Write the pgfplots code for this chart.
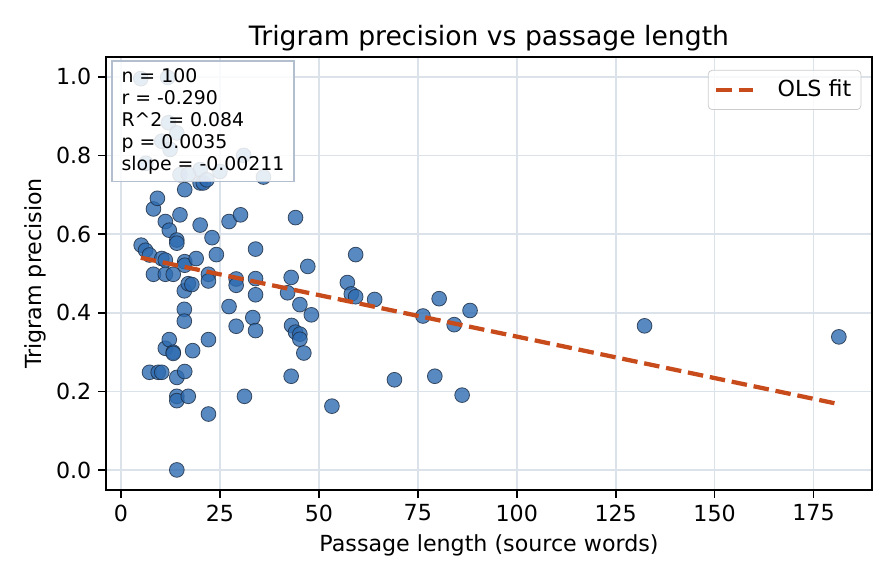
\documentclass[border=0pt]{standalone}
\usepackage{pgfplots}
\pgfplotsset{compat=1.18}
\usepackage{fontspec}
\setmainfont{DejaVu Sans}
\definecolor{ptc}{HTML}{2E6BB0}
\definecolor{ptedge}{HTML}{1A2A40}
\definecolor{ols}{HTML}{C84B1B}
\definecolor{gridc}{HTML}{DCE2EA}
\definecolor{boxedge}{HTML}{B3BFCE}
\definecolor{legedge}{HTML}{CCCCCC}
\pgfplotstableread{
x y
5.1 0.572
6.2 0.559
7.2 0.547
7.2 0.249
8.2 0.664
8.2 0.498
9.2 0.691
9.4 0.249
10.3 0.249
10.3 0.538
11.2 0.632
11.2 0.534
11.2 0.498
11.2 0.310
12.2 0.610
12.2 0.332
13.2 0.498
13.2 0.300
13.2 0.297
14.1 0.585
14.1 0.577
14.1 0.236
14.1 0.188
14.1 0.177
14.1 0.001
14.9 0.649
16.1 0.713
16.1 0.530
16.1 0.521
16.0 0.456
16.0 0.409
16.0 0.379
16.1 0.251
17.0 0.474
17.9 0.472
17.0 0.188
18.1 0.304
19.0 0.538
20.0 0.730
20.8 0.730
20.0 0.623
22.1 0.498
22.1 0.481
22.1 0.332
22.1 0.143
23.0 0.591
24.1 0.548
27.3 0.632
27.3 0.416
29.1 0.486
29.1 0.470
29.1 0.366
30.2 0.649
31.2 0.188
33.3 0.388
34.0 0.562
34.0 0.487
34.0 0.446
34.0 0.355
36.0 0.745
42.1 0.451
43.0 0.490
43.1 0.368
43.0 0.239
44.1 0.642
44.1 0.351
45.2 0.421
45.2 0.346
45.2 0.333
46.2 0.298
47.2 0.518
48.1 0.395
53.3 0.163
57.2 0.477
58.2 0.448
59.3 0.441
59.3 0.548
64.1 0.434
69.1 0.230
76.3 0.392
79.3 0.239
80.4 0.436
84.2 0.370
86.2 0.191
88.2 0.406
132.3 0.367
181.4 0.339
5.0 0.995
11.8 0.998
12.0 0.883
14.1 0.857
10.3 0.836
12.4 0.815
14.9 0.751
20.0 0.764
25.0 0.759
31.0 0.800
6.3 0.780
21.7 0.738
17.0 0.752
}\scatterdata
\begin{document}
\begin{tikzpicture}
\begin{axis}[
  set layers,
  scale only axis, width=394pt, height=222.7pt,
  xmin=-3.8, xmax=189.8, ymin=-0.05, ymax=1.05,
  xtick={0,25,50,75,100,125,150,175},
  ytick={0,0.2,0.4,0.6,0.8,1.0},
  yticklabel style={/pgf/number format/.cd, fixed, fixed zerofill, precision=1},
  /pgf/number format/assume math mode=true,
  tick label style={font=\fontsize{11.4}{13.7}\selectfont},
  label style={font=\fontsize{11.4}{13.7}\selectfont},
  grid=major, major grid style={gridc, line width=0.9pt},
  axis line style={black, line width=0.9pt},
  tick style={black, line width=0.9pt},
  tick align=outside, major tick length=4pt,
  xtick pos=bottom, ytick pos=left,
  xlabel={Passage length (source words)},
  ylabel={Trigram precision},
  xlabel style={at={(rel axis cs:0.5,0)}, anchor=center, yshift=-28.3pt},
  ylabel style={at={(rel axis cs:0,0.5)}, anchor=center, yshift=36.5pt},
  title={Trigram precision vs passage length},
  title style={at={(rel axis cs:0.5,1)}, anchor=center, yshift=3.8pt, font=\fontsize{13.7}{16}\selectfont},
  legend style={at={(rel axis cs:0.986,0.97)}, anchor=north east, draw=legedge, rounded corners=2pt,
    fill=white, fill opacity=0.8, text opacity=1, font=\fontsize{11.4}{13.7}\selectfont,
    inner xsep=3pt, inner ysep=3pt},
  legend image code/.code={\draw[#1] (0pt,0pt) -- (19pt,0pt);},
]
\addplot[only marks, mark=*, mark size=3.8pt,
  mark options={fill=ptc, fill opacity=0.8, draw=ptedge, draw opacity=0.8, line width=0.4pt}, forget plot]
  table[x=x, y=y] {\scatterdata};
\addplot[ols, line width=2.2pt, dash pattern=on 8pt off 3.5pt, on layer=axis foreground] coordinates {(5,0.540) (181,0.169)};
\addlegendentry{\hspace{9.5pt}OLS fit}
\coordinate (boxpos) at (rel axis cs:0.0065,0.993);
\end{axis}
\node[anchor=north west, fill=white, fill opacity=0.85, text opacity=1, draw=boxedge, line width=0.9pt,
  align=left, inner xsep=5pt, inner ysep=3.8pt, font=\fontsize{9.7}{11.3}\selectfont]
  at (boxpos)
  {n = 100\\r = -0.290\\R\^{}2 = 0.084\\p = 0.0035\\slope = -0.00211};
\pgfresetboundingbox
\path (-54.5pt,-48.3pt) rectangle (406.3pt,252pt);
\end{tikzpicture}
\end{document}
